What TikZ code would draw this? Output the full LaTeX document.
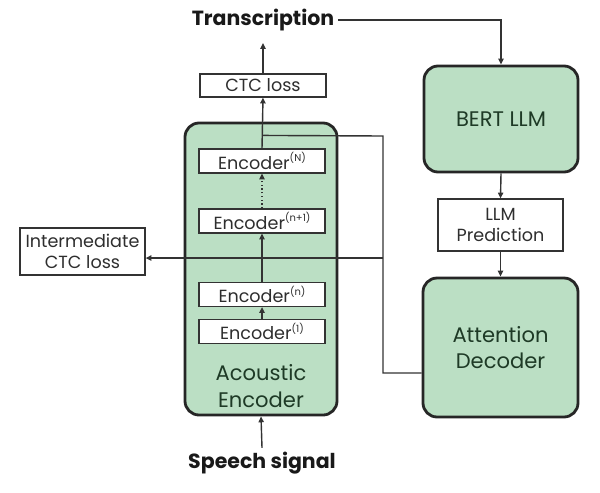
\documentclass[tikz,border=0pt]{standalone}
\usepackage{fontspec}
\setmainfont{Poppins}
\usepackage{tikz}
\usetikzlibrary{arrows.meta,calc}
\definecolor{boxgreen}{HTML}{BBDFC4}
\definecolor{textgreen}{HTML}{1E3A26}
\definecolor{linegray}{HTML}{333333}
\definecolor{textgray}{HTML}{2E2E2E}
\newcommand{\encsup}[1]{\raisebox{0.75ex}{\fontsize{8.5}{9}\selectfont(#1)}}

\begin{document}
\begin{tikzpicture}[x=0.03cm,y=-0.03cm,
        conn/.style={draw=linegray,line width=1.2pt},
        arr/.style={conn,-{Triangle[length=5pt,width=4.5pt]}},
        lossbox/.style={draw=linegray,fill=white,line width=1pt,inner sep=0pt,align=center,
            text=textgray,font=\fontsize{15}{18.5}\selectfont},
        encbox/.style={lossbox,minimum width=3.78cm,minimum height=0.72cm},
        bigbox/.style={draw=black!85,fill=boxgreen,line width=2.4pt,rounded corners=12pt,
            inner sep=0pt,align=center,text=textgreen,font=\fontsize{18}{22}\selectfont},
        title/.style={font=\fontsize{17.5}{21}\selectfont\bfseries,text=black!90}]
    \useasboundingbox (0,0) rectangle (600,492);

    % acoustic encoder column
    \node[title] (trans) at (263,20) {Transcription};
    \node[lossbox,minimum width=3.78cm,minimum height=0.69cm] (ctc) at (263,85.5) {CTC loss};
    \node[bigbox,minimum width=4.56cm,minimum height=8.76cm] (acoustic) at (261,269) {};
    \node[encbox] (encN) at (262,161) {Encoder\encsup{N}};
    \node[encbox] (encnp) at (262,221) {Encoder\encsup{n+1}};
    \node[encbox] (encn) at (262,294.5) {Encoder\encsup{n}};
    \node[encbox] (enc1) at (262,331.5) {Encoder\encsup{1}};
    \node[align=center,text=textgreen,font=\fontsize{18}{23}\selectfont] (acname) at (261,386.5) {Acoustic\\Encoder};
    \node[title] (speech) at (262,463) {Speech signal};
    \node[lossbox,minimum width=3.75cm,minimum height=1.41cm] (inter) at (82.5,251.5) {Intermediate\\CTC loss};

    % decoder column
    \node[bigbox,minimum width=4.62cm,minimum height=3.18cm] (bert) at (501,119) {BERT LLM};
    \node[lossbox,minimum width=3.75cm,minimum height=1.56cm] (pred) at (500.5,225) {LLM\\Prediction};
    \node[bigbox,minimum width=4.65cm,minimum height=4.17cm] (attn) at (500.5,347.5) {Attention\\Decoder};

    \coordinate (ctcout) at (263,43);
    \coordinate (split) at ($(encN.north)+(0,-13)$);
    \coordinate (turnA) at (383,136);
    \coordinate (turnB) at (383,373);
    \coordinate (tap) at (383,258);

    \draw[arr] (speech.north) -- (acoustic.south);
    \draw[arr] (enc1.north) -- (encn.south);
    \draw[arr] (encn.north) -- (encnp.south);
    \draw[arr,dotted] (encnp.north) -- (encN.south);
    \draw[arr] (encN.north) -- (ctc.south);
    \draw[arr] (ctc.north) -- (ctcout);
    \draw[conn] (split) -- (turnA) -- (turnB) -- (turnB -| attn.west);
    \draw[arr] (tap) -- (tap -| inter.east);
    \draw[arr] (trans.east) -| (bert.north);
    \draw[arr] (bert.south) -- (pred.north);
    \draw[arr] (pred.south) -- (attn.north);
\end{tikzpicture}
\end{document}
